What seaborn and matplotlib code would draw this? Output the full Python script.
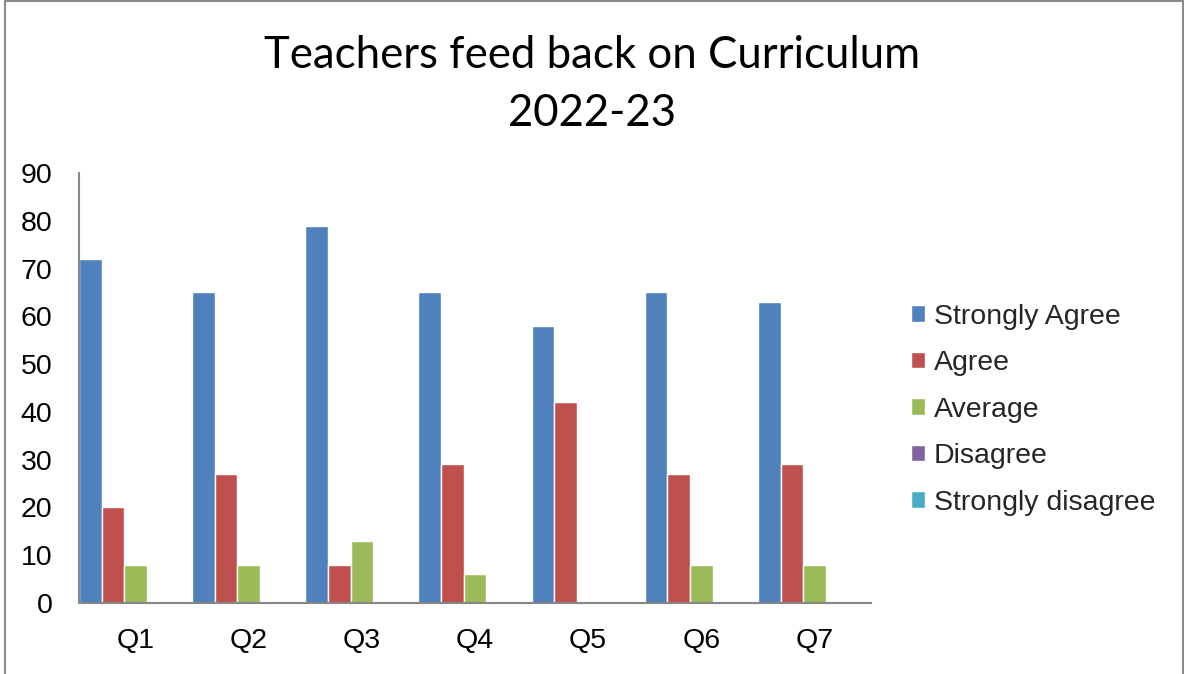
import matplotlib
matplotlib.use("Agg")
import matplotlib.pyplot as plt
import seaborn as sns
import pandas as pd
from matplotlib.patches import Rectangle

questions = ["Q1", "Q2", "Q3", "Q4", "Q5", "Q6", "Q7"]
strongly_agree = [72, 65, 79, 65, 58, 65, 63]
agree = [20, 27, 8, 29, 42, 27, 29]
average = [8, 8, 13, 6, 0, 8, 8]
disagree = [0, 0, 0, 0, 0, 0, 0]
strongly_disagree = [0, 0, 0, 0, 0, 0, 0]

series = ["Strongly Agree", "Agree", "Average", "Disagree", "Strongly disagree"]
colors = ["#4F81BD", "#C0504D", "#9BBB59", "#8064A2", "#4BACC6"]

rows = []
for name, vals in zip(series, [strongly_agree, agree, average, disagree, strongly_disagree]):
    for q, v in zip(questions, vals):
        rows.append({"question": q, "response": name, "value": v})
df = pd.DataFrame(rows)

sns.set_style("white")
plt.rcParams["font.family"] = ["Liberation Sans", "DejaVu Sans"]

fig = plt.figure(figsize=(11.84, 6.74), dpi=100)
ax = fig.add_axes([0.0667, 0.1053, 0.669, 0.638])

sns.barplot(data=df, x="question", y="value", hue="response", hue_order=series,
            palette=colors, width=1.0, gap=0, saturation=1, ax=ax, legend=True)

ax.set_ylim(0, 90)
ax.set_yticks(range(0, 91, 10))
ax.set_xlim(-0.5, 6.5)
ax.set_xlabel("")
ax.set_ylabel("")
ax.tick_params(axis="both", length=0, labelsize=20.5, labelcolor="black")
ax.tick_params(axis="y", pad=19)
ax.tick_params(axis="x", pad=18)
for s in ["top", "right"]:
    ax.spines[s].set_visible(False)
for s in ["left", "bottom"]:
    ax.spines[s].set_color("#868686")
    ax.spines[s].set_linewidth(1.5)

handles, labels = ax.get_legend_handles_labels()
ax.legend(handles, labels, loc="center left", bbox_to_anchor=(1.018, 0.45),
          frameon=False, fontsize=20.5, handlelength=0.5, handleheight=0.5,
          handletextpad=0.3, labelspacing=0.72)

fig.text(0.5, 0.875, "Teachers feed back on Curriculum\n2022-23", ha="center", va="center",
         fontsize=31.5, family=["Lato", "DejaVu Sans"], linespacing=1.5, color="black")

fig.patches.append(Rectangle((0.004, -0.01), 0.995, 1.008, transform=fig.transFigure,
                             fill=False, edgecolor="#8a8a8a", linewidth=1.5))

fig.savefig("out.png", dpi=100)
